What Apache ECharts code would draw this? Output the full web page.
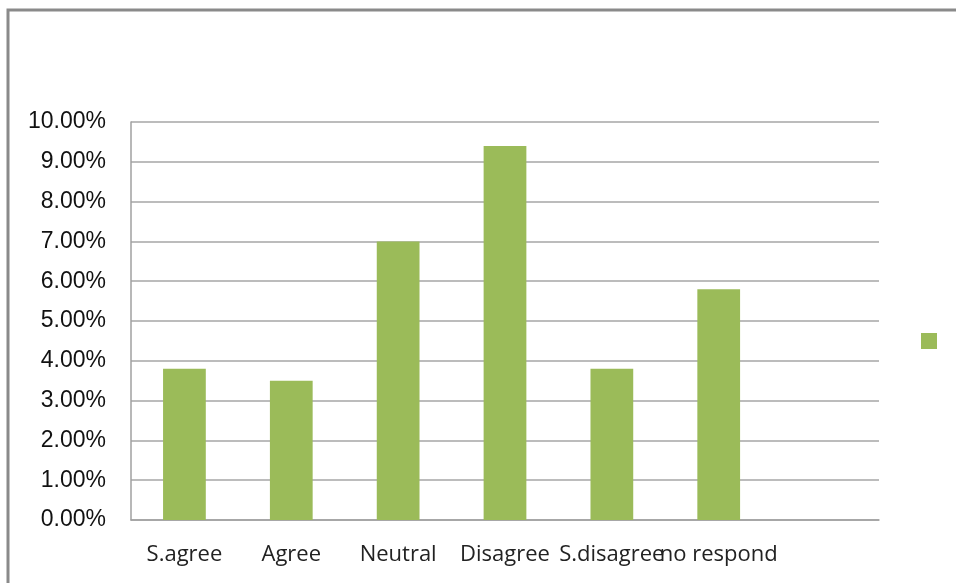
<!DOCTYPE html>
<html>
<head>
<meta charset="utf-8">
<script src="https://cdn.jsdelivr.net/npm/echarts@6/dist/echarts.min.js"></script>
<style>
  html, body { margin: 0; padding: 0; background: #fff; }
  #chart { width: 956px; height: 583px; }
</style>
</head>
<body>
<div id="chart"></div>
<script>
// categories (the last slot is empty in the original)
var categories = ['S.agree', 'Agree', 'Neutral', 'Disagree', 'S.disagree', 'no respond', ''];
// share of responses, as fractions
var values = [0.038, 0.035, 0.070, 0.094, 0.038, 0.058, null];
var yMin = 0;
var yMax = 0.10;
var yStep = 0.01;

var myChart = echarts.init(document.getElementById('chart'));

var option = {
    animation: false,
    backgroundColor: '#fff',
    graphic: [
        {
            type: 'rect',
            shape: { x: 8, y: 10, width: 1000, height: 1000 },
            style: { fill: 'none', stroke: '#8a8a8a', lineWidth: 3 },
            silent: true
        }
    ],
    legend: {
        left: 916,
        top: 328,
        itemWidth: 16,
        itemHeight: 16,
        icon: 'rect',
        formatter: function () { return ''; },
        data: [' ']
    },
    grid: {
        left: 131,
        top: 122,
        right: 77,
        bottom: 63,
        containLabel: false
    },
    xAxis: {
        type: 'category',
        data: categories,
        axisLine: { lineStyle: { color: '#a0a0a0', width: 1.5 } },
        axisTick: { show: false },
        axisLabel: {
            interval: 0,
            margin: 24,
            color: '#222',
            fontFamily: 'Open Sans',
            fontSize: 22
        }
    },
    yAxis: {
        type: 'value',
        min: yMin,
        max: yMax,
        interval: yStep,
        axisLine: { show: true, lineStyle: { color: '#a0a0a0', width: 1.5 } },
        axisTick: { show: false },
        splitLine: { lineStyle: { color: '#a6a6a6', width: 1.5 } },
        axisLabel: {
            margin: 25,
            color: '#111',
            fontFamily: 'Liberation Sans',
            fontSize: 23,
            formatter: function (v) { return (v * 100).toFixed(2) + '%'; }
        }
    },
    series: [
        {
            name: ' ',
            type: 'bar',
            data: values,
            barWidth: '40%',
            itemStyle: { color: '#9bbb59' }
        }
    ]
};

myChart.setOption(option);
</script>
</body>
</html>
